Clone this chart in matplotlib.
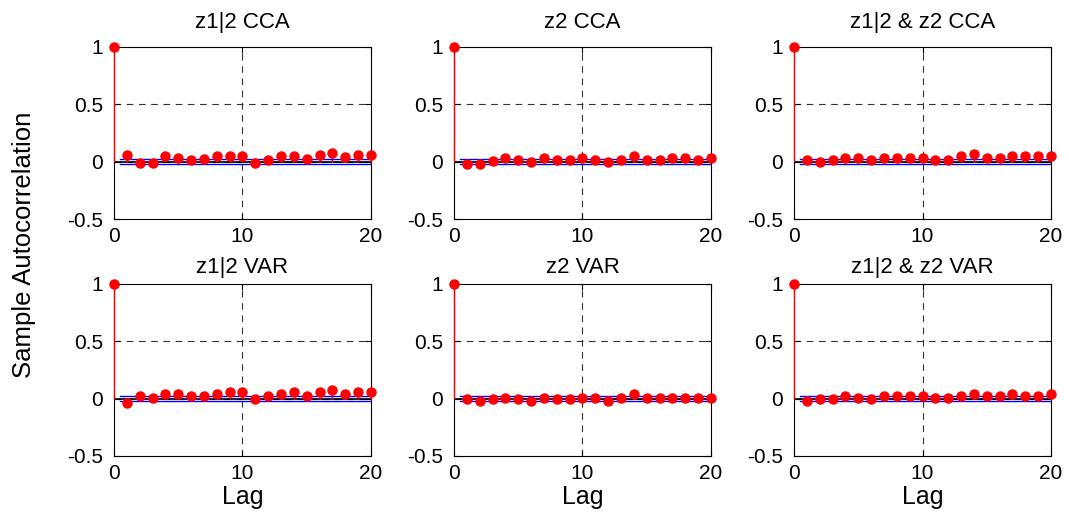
import numpy as np
import matplotlib.pyplot as plt

plt.rcParams['font.family'] = ['Liberation Sans', 'DejaVu Sans']

lags = np.arange(0, 21)
titles = ['z1|2 CCA', 'z2 CCA', 'z1|2 & z2 CCA',
          'z1|2 VAR', 'z2 VAR', 'z1|2 & z2 VAR']

acf_z12_cca = [1, 0.061, -0.01, -0.01, 0.05, 0.03, 0.012, 0.026, 0.05, 0.05, 0.05,
               -0.01, 0.012, 0.047, 0.047, 0.026, 0.061, 0.078, 0.044, 0.061, 0.061]
acf_z2_cca = [1, -0.02, -0.02, 0.01, 0.03, 0.012, -0.006, 0.03, 0.012, 0.012, 0.03,
              0.012, -0.006, 0.012, 0.05, 0.012, 0.012, 0.03, 0.03, 0.012, 0.03]
acf_both_cca = [1, 0.015, -0.006, 0.012, 0.03, 0.03, 0.012, 0.03, 0.03, 0.03, 0.03,
                0.012, 0.012, 0.05, 0.064, 0.03, 0.03, 0.05, 0.05, 0.05, 0.05]
acf_z12_var = [1, -0.04, 0.023, 0.009, 0.04, 0.04, 0.023, 0.023, 0.04, 0.061, 0.061,
               -0.006, 0.023, 0.04, 0.061, 0.023, 0.061, 0.075, 0.04, 0.061, 0.061]
acf_z2_var = [1, -0.006, -0.023, -0.006, 0.009, -0.006, -0.023, 0.009, -0.006, -0.006, 0.009,
              0.009, -0.023, 0.009, 0.044, 0.009, 0.009, 0.009, 0.009, 0.009, 0.009]
acf_both_var = [1, -0.023, -0.006, -0.006, 0.023, 0.009, -0.006, 0.023, 0.023, 0.023, 0.023,
                0.009, 0.009, 0.023, 0.04, 0.023, 0.023, 0.04, 0.023, 0.023, 0.04]
series = [acf_z12_cca, acf_z2_cca, acf_both_cca, acf_z12_var, acf_z2_var, acf_both_var]
bound = 0.023

fig = plt.figure(figsize=(10.69, 5.17), dpi=100)
lefts = [0.1066, 0.4247, 0.7428]
bottoms = [0.5764, 0.118]
w, h = 0.2404, 0.3327

for i, (name, acf) in enumerate(zip(titles, series)):
    ax = fig.add_axes([lefts[i % 3], bottoms[i // 3], w, h])
    ax.axvline(10, color='#333333', lw=0.8, ls=(0, (6, 5)), zorder=0)
    for v in [0.5, 0]:
        ax.axhline(v, color='#333333', lw=0.8, ls=(0, (6, 5)), zorder=0)
    ax.plot([0, 20], [0, 0], color='black', lw=1.2, zorder=1)
    ax.vlines(lags, 0, acf, color='red', lw=1, zorder=3, clip_on=False)
    ax.plot(lags, acf, 'o', color='red', ms=6.5, mec='red', zorder=5, clip_on=False)
    ax.plot([0.5, 20], [bound, bound], color='blue', lw=1, zorder=4)
    ax.plot([0.5, 20], [-bound, -bound], color='blue', lw=1, zorder=4)
    ax.set_xlim(0, 20)
    ax.set_ylim(-0.5, 1)
    ax.set_xticks([0, 10, 20])
    ax.set_yticks([-0.5, 0, 0.5, 1])
    ax.set_yticklabels(['-0.5', '0', '0.5', '1'])
    ax.tick_params(direction='in', labelsize=15, length=4, top=True, right=True)
    ax.tick_params(axis='y', pad=8)
    ax.tick_params(axis='x', pad=6)
    ax.set_title(name, fontsize=16, pad=14 if i < 3 else 8)
    if i // 3 == 1:
        ax.set_xlabel('Lag', fontsize=18, labelpad=1)

fig.text(0.022, 0.526, 'Sample Autocorrelation', rotation=90, fontsize=18.5,
         ha='center', va='center')

plt.savefig('out.png', dpi=100)
